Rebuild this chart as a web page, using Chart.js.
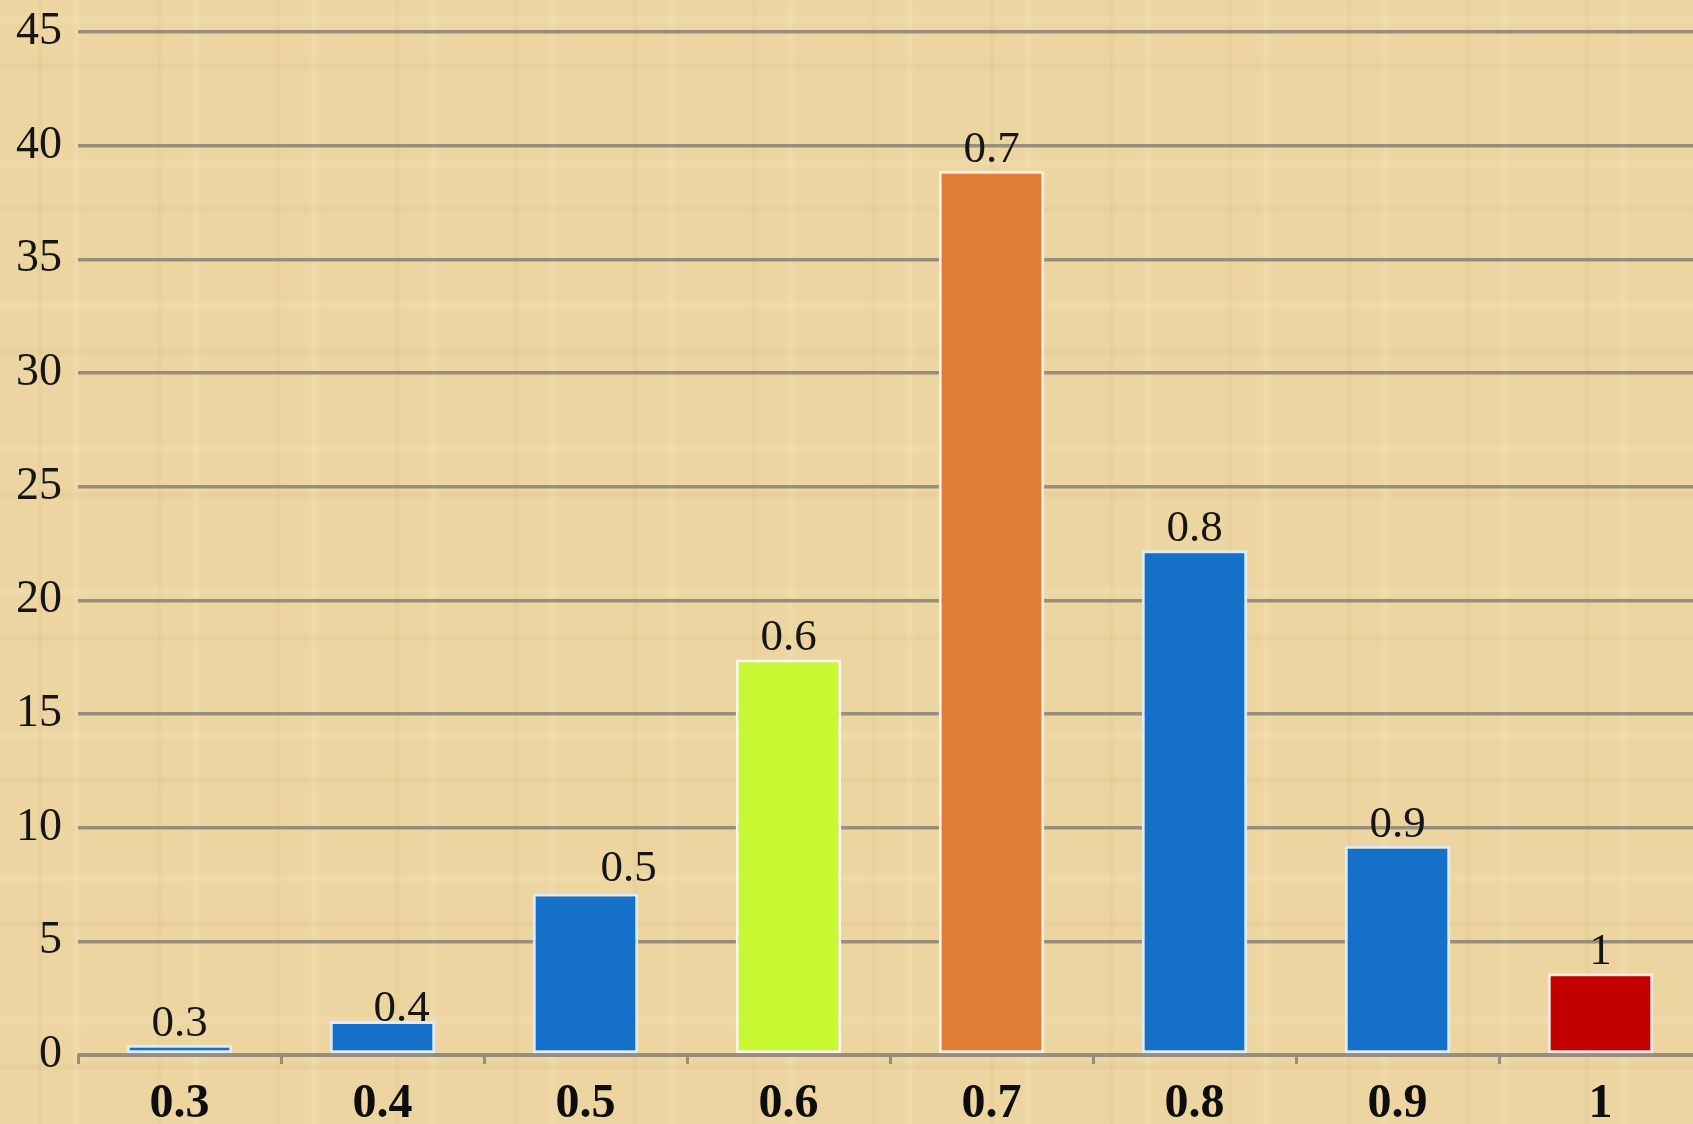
<!DOCTYPE html>
<html>
<head>
<meta charset="utf-8">
<script src="https://cdn.jsdelivr.net/npm/chart.js@4/dist/chart.umd.min.js"></script>
<style>
  html, body { margin: 0; padding: 0; overflow: hidden; width: 1693px; height: 1124px; }
  body {
    background-color: #ecd5a1;
    background-image:
      repeating-linear-gradient(90deg, rgba(160,120,60,0.00) 0px, rgba(160,120,60,0.00) 37px, rgba(170,130,70,0.08) 40px, rgba(160,120,60,0.00) 44px, rgba(255,245,215,0.00) 71px, rgba(255,245,215,0.16) 76px, rgba(255,245,215,0.00) 83px, rgba(160,120,60,0.00) 119px),
      repeating-linear-gradient(0deg, rgba(160,120,60,0.00) 0px, rgba(160,120,60,0.00) 53px, rgba(170,130,70,0.08) 57px, rgba(160,120,60,0.00) 62px, rgba(255,245,215,0.00) 97px, rgba(255,245,215,0.16) 103px, rgba(255,245,215,0.00) 110px, rgba(160,120,60,0.00) 143px);
  }
  #wrap { position: absolute; left: 0; top: 0; width: 1702px; height: 1124px; }
</style>
</head>
<body>
<div id="wrap"><canvas id="c"></canvas></div>
<script>
const categories = ['0.3', '0.4', '0.5', '0.6', '0.7', '0.8', '0.9', '1'];
const values = [0.45, 1.5, 7.1, 17.4, 38.9, 22.2, 9.2, 3.6];
const barLabels = ['0.3', '0.4', '0.5', '0.6', '0.7', '0.8', '0.9', '1'];
const yTicks = [0, 5, 10, 15, 20, 25, 30, 35, 40, 45];

const fillColors = ['#1470c8', '#1470c8', '#1470c8', '#c8f832', '#e07e36', '#1470c8', '#1470c8', '#c20000'];
const edgeColors = ['#dcecf8', '#dcecf8', '#dcecf8', '#f6f6ea', '#f8eee4', '#dcecf8', '#dcecf8', '#f8e8e8'];
const labelNudge = [[0, 0], [19, 9], [43, -4], [0, 0], [0, 0], [0, 0], [0, 0], [0, 0]];

const barLabelPlugin = {
  id: 'barLabels',
  afterDatasetsDraw(chart) {
    const ctx = chart.ctx;
    const meta = chart.getDatasetMeta(0);
    ctx.save();
    ctx.font = '45px "Liberation Serif"';
    ctx.fillStyle = '#151515';
    ctx.textAlign = 'center';
    ctx.textBaseline = 'alphabetic';
    meta.data.forEach((bar, i) => {
      const n = labelNudge[i];
      ctx.fillText(barLabels[i], bar.x + n[0], bar.y - 9 + n[1]);
    });
    ctx.restore();
  }
};

new Chart(document.getElementById('c'), {
  type: 'bar',
  data: {
    labels: categories,
    datasets: [{
      data: values,
      backgroundColor: fillColors,
      borderColor: edgeColors,
      borderWidth: 3,
      borderSkipped: false,
      barPercentage: 0.52,
      categoryPercentage: 1.0
    }]
  },
  options: {
    responsive: true,
    maintainAspectRatio: false,
    animation: false,
    layout: { padding: { top: 32, right: 0, left: 0, bottom: 0 } },
    plugins: { legend: { display: false }, tooltip: { enabled: false } },
    scales: {
      x: {
        afterFit(scale) { scale.height = 69; scale.paddingLeft = 0; scale.paddingRight = 0; },
        grid: { display: true, drawOnChartArea: false, drawTicks: true, tickLength: 9, color: '#978e7c', lineWidth: 3, offset: true },
        border: { display: true, color: '#978e7c', width: 3 },
        ticks: { color: '#0d0d0d', padding: 12, font: { family: '"Liberation Serif"', size: 48, weight: 'bold' }, maxRotation: 0 }
      },
      y: {
        min: 0, max: 45,
        afterFit(scale) { scale.width = 78; scale.paddingTop = 0; scale.paddingBottom = 0; },
        afterBuildTicks(scale) { scale.ticks = yTicks.map(v => ({ value: v })); },
        grid: { display: true, drawTicks: false, color: '#978e7c', lineWidth: 3.5 },
        border: { display: false },
        ticks: { color: '#151515', padding: 16, font: { family: '"Liberation Serif"', size: 46 } }
      }
    }
  },
  plugins: [barLabelPlugin]
});
</script>
</body>
</html>
